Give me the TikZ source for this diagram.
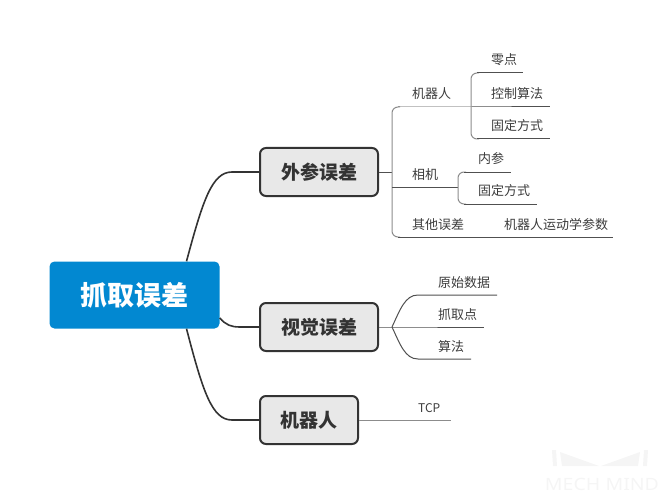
\documentclass[tikz,border=0pt]{standalone}
\usepackage{fontspec}
\setmainfont{Noto Sans CJK SC}
\newfontfamily\wmfont{Noto Sans}
\usepackage{tikz}

\definecolor{rootblue}{RGB}{2,136,209}
\definecolor{boxgray}{RGB}{232,232,232}
\definecolor{darkline}{RGB}{51,51,51}
\definecolor{subline}{RGB}{80,80,80}
\definecolor{bracketgray}{RGB}{140,140,140}
\definecolor{leaftext}{RGB}{60,60,60}
\definecolor{wmgray}{RGB}{245,245,245}

\begin{document}
\begin{tikzpicture}[x=1pt,y=-1pt,
  root/.style={rectangle,rounded corners=5pt,fill=rootblue,text=white,
    minimum width=170pt,minimum height=67pt,
    font=\fontsize{27}{27}\selectfont\bfseries},
  topic/.style={rectangle,rounded corners=6pt,draw=darkline,line width=2pt,
    fill=boxgray,text=darkline,minimum height=48pt,
    font=\fontsize{19}{19}\selectfont\bfseries},
  leaf/.style={anchor=base west,inner sep=0pt,text=leaftext,
    font=\fontsize{13}{13}\selectfont},
  main/.style={draw=darkline,line width=1.6pt},
  sub/.style={draw=subline,line width=1pt},
  bracket/.style={draw=bracketgray,line width=1pt,rounded corners=6pt}]
\useasboundingbox (0,0) rectangle (665,495);

% nodes
\node[root] (R) at (134.5,295) {抓取误差};
\node[topic,minimum width=118pt] (W) at (319,172) {外参误差};
\node[topic,minimum width=118pt] (V) at (319,327) {视觉误差};
\node[topic,minimum width=98pt] (J) at (309,420) {机器人};

\node[leaf] (L1)  at (412,99)  {机器人};
\node[leaf] (L11) at (491,65)  {零点};
\node[leaf] (L12) at (491,99)  {控制算法};
\node[leaf] (L13) at (491,131) {固定方式};
\node[leaf] (L2)  at (412,179) {相机};
\node[leaf] (L21) at (478,164) {内参};
\node[leaf] (L22) at (478,196) {固定方式};
\node[leaf] (L3)  at (412,229) {其他误差};
\node[leaf] (L31) at (504,229) {机器人运动学参数};
\node[leaf] (V1)  at (438,287) {原始数据};
\node[leaf] (V2)  at (438,319) {抓取点};
\node[leaf] (V3)  at (438,351) {算法};
\node[leaf,font=\fontsize{12}{12}\selectfont] (T1) at (418,412) {TCP};

% joints
\coordinate (w0) at (392,172);
\coordinate (wt) at (392,107);
\coordinate (wb) at (392,237);
\coordinate (wc) at (392,187);
\coordinate (r0) at (471,107);
\coordinate (rt) at (471,73);
\coordinate (rb) at (471,139);
\coordinate (c0) at (458,187);
\coordinate (ct) at (458,172);
\coordinate (cb) at (458,204);
\coordinate (v0) at (392,327);
\coordinate (vt) at (418,295);
\coordinate (vb) at (418,359);
\coordinate (e1) at (523,73);
\coordinate (e2) at (550,107);
\coordinate (e3) at (550,139);
\coordinate (e4) at (511,172);
\coordinate (e5) at (537,204);
\coordinate (e6) at (613,237);
\coordinate (e7) at (497,295);
\coordinate (e8) at (484,327);
\coordinate (e9) at (471,359);
\coordinate (t0) at (451,420);

% lines
\draw[main] ([xshift=52pt]R.north) .. controls (203,200) and (212,172) .. (232,172) -- (W.west);
\draw[main] ([yshift=-23pt]R.east) .. controls (226,325) and (231,327) .. (240,327) -- (V.west);
\draw[main] ([xshift=52pt]R.south) .. controls (203,392) and (212,420) .. (232,420) -- (J.west);

\draw[sub] (W.east) -- (w0);
\draw[bracket] ([xshift=8pt]wt) -- (wt) -- (wb) -- ([xshift=8pt]wb);
\draw[sub] ([xshift=6pt]wt) -- (r0) -- (e2);
\draw[sub] (wc) -- (c0);
\draw[sub] ([xshift=6pt]wb) -- (e6);

\draw[bracket] ([xshift=8pt]rt) -- (rt) -- (rb) -- ([xshift=8pt]rb);
\draw[sub] ([xshift=6pt]rt) -- (e1);
\draw[sub] ([xshift=6pt]rb) -- (e3);

\draw[bracket] ([xshift=8pt]ct) -- (ct) -- (cb) -- ([xshift=8pt]cb);
\draw[sub] ([xshift=6pt]ct) -- (e4);
\draw[sub] ([xshift=6pt]cb) -- (e5);

\draw[sub] (V.east) -- (v0) -- (e8);
\draw[sub] (v0) .. controls (400,310) and (405,295) .. (vt) -- (e7);
\draw[sub] (v0) .. controls (400,344) and (405,359) .. (vb) -- (e9);

\draw[sub,draw=bracketgray] (J.east) -- (t0);

% watermark
\fill[wmgray] (552,450) -- (556,450) -- (557,466) -- (553,466) -- cycle;
\fill[wmgray] (560,452) -- (599,466) -- (562,466) -- cycle;
\fill[wmgray] (640,452) -- (601,466) -- (638,466) -- cycle;
\fill[wmgray] (644,450) -- (648,450) -- (647,466) -- (643,466) -- cycle;
\node[text=wmgray,font=\wmfont\fontsize{17}{17}\selectfont,xscale=1.15] (M) at (602,484) {MECH MIND};
\end{tikzpicture}
\end{document}
